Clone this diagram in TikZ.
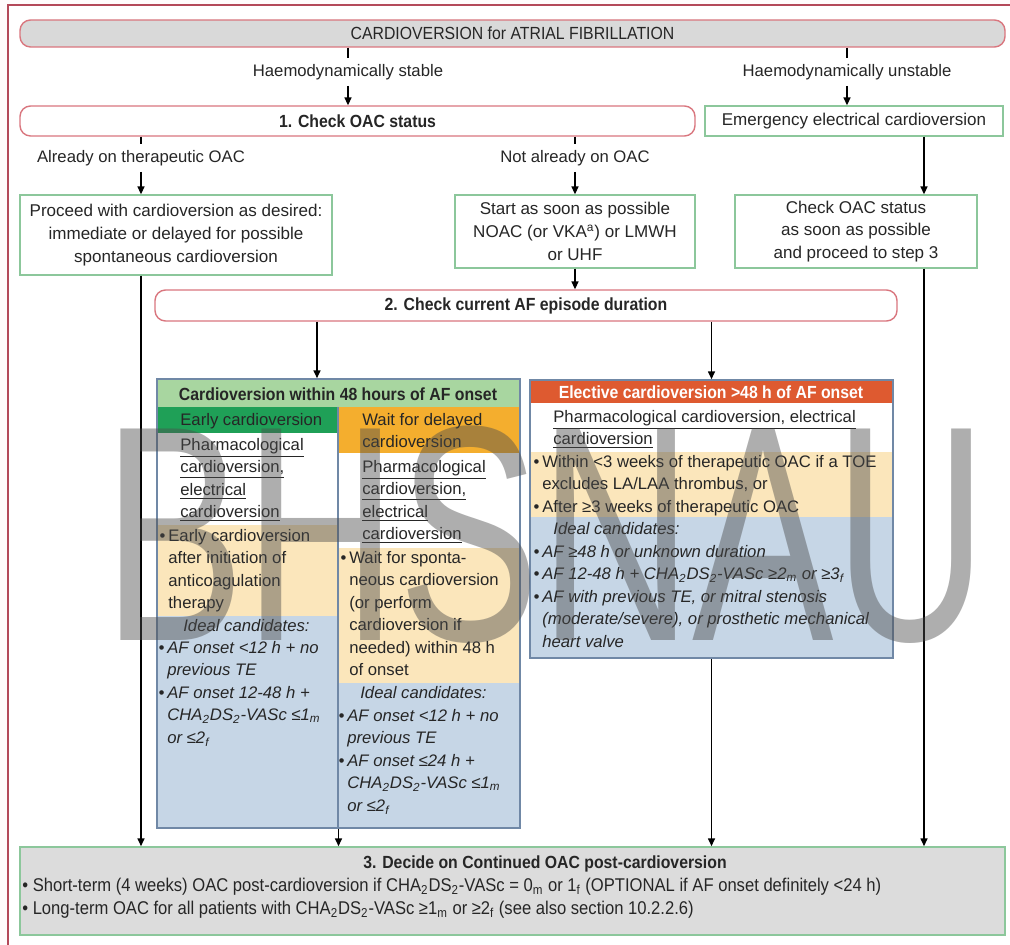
\documentclass[tikz,border=0pt]{standalone}
\usepackage{fontspec}
\setmainfont{Liberation Sans}
\newfontfamily\narrowfont[FakeStretch=0.9]{Liberation Sans}
\usetikzlibrary{arrows.meta,fit}

\definecolor{ink}{HTML}{262626}
\definecolor{framered}{HTML}{B44A5A}
\definecolor{edgered}{HTML}{D9767E}
\definecolor{titlegray}{HTML}{D9D9D9}
\definecolor{edgegreen}{HTML}{8CC79B}
\definecolor{headgreen}{HTML}{A8D6A0}
\definecolor{darkgreen}{HTML}{1FA057}
\definecolor{orangefill}{HTML}{F4AE2E}
\definecolor{headred}{HTML}{DE5A30}
\definecolor{paleyellow}{HTML}{FBE6BB}
\definecolor{paleblue}{HTML}{C6D6E6}
\definecolor{bordblue}{HTML}{7088A6}
\definecolor{decidegray}{HTML}{DCDCDC}

\newcommand\bodyfont{\fontsize{9.5}{12.8}\selectfont}
\newcommand\headfont{\narrowfont\fontsize{10}{12}\selectfont}
\newcommand\sub[1]{\textsubscript{#1}}

\tikzset{
  titlebox/.style={draw=edgered, fill=titlegray, rounded corners=6pt, inner sep=0pt, line width=0.8pt},
  stepbox/.style={draw=edgered, fill=white, rounded corners=6pt, inner sep=0pt, line width=0.8pt},
  greenbox/.style={draw=edgegreen, fill=white, inner sep=0pt, line width=0.8pt},
  colbox/.style={draw=bordblue, inner sep=0pt, line width=0.9pt},
  boxtext/.style={align=center, font=\fontsize{9.7}{13}\selectfont},
  steptext/.style={font=\headfont\bfseries},
  coltext/.style={anchor=north west, align=left, inner sep=0pt},
  idealtext/.style={coltext, font=\bodyfont\itshape},
  flow/.style={-{Triangle[length=4.5pt,width=4pt]}, line width=0.8pt, draw=black},
}

\begin{document}
\begin{tikzpicture}[x=0.02cm, y=-0.02cm,
    every node/.style={font=\bodyfont, text=ink}]
  \useasboundingbox (0,0) rectangle (1010,945);
  \fill[pink!5] (0,0) rectangle (1010,945);
  \draw[framered, line width=1.2pt, fill=white] (8,5) rectangle (1030,965);

  % step 0 and 1
  \node[titlebox, fit={(20,20) (1005,47)}] (title) {};
  \node[font=\headfont] (titletx) at (title.center) {CARDIOVERSION for ATRIAL FIBRILLATION};
  \node (stable) at (348,72) {Haemodynamically stable};
  \node (unstable) at (847,72) {Haemodynamically unstable};
  \node[stepbox, fit={(20,106) (695,136)}] (check1) {};
  \node[steptext] (check1tx) at (check1.center) {1. Check OAC status};
  \node[greenbox, fit={(705,106) (1003,136)}] (emerg) {};
  \node[boxtext] (emergtx) at (emerg.center) {Emergency electrical cardioversion};

  \node (already) at (141,158) {Already on therapeutic OAC};
  \node (notalr) at (575,158) {Not already on OAC};
  \node[greenbox, fit={(20,195) (332,275)}] (proceed) {};
  \node[boxtext] (proceedtx) at (proceed.center)
    {Proceed with cardioversion as desired:\\immediate or delayed for possible\\spontaneous cardioversion};
  \node[greenbox, fit={(455,195) (695,268)}] (start) {};
  \node[boxtext] (starttx) at (start.center)
    {Start as soon as possible\\NOAC (or VKA\textsuperscript{a}) or LMWH\\or UHF};
  \node[greenbox, fit={(735,195) (977,268)}] (chkstat) {};
  \node[boxtext] (chkstattx) at (chkstat.center)
    {Check OAC status\\as soon as possible\\and proceed to step 3};

  % step 2
  \node[stepbox, fit={(155,290) (897,321)}] (step2) {};
  \node[steptext] (step2tx) at (step2.center) {2. Check current AF episode duration};

  % within 48 h
  \fill[headgreen] (157,379) rectangle (520,407);
  \fill[darkgreen] (157,407) rectangle (338,433);
  \fill[orangefill] (338,407) rectangle (520,453);
  \fill[paleyellow] (157,525) rectangle (338,616);
  \fill[paleblue] (157,616) rectangle (338,828);
  \fill[paleyellow] (338,548) rectangle (520,683);
  \fill[paleblue] (338,683) rectangle (520,828);
  \draw[bordblue, line width=0.6pt] (338,407) -- (338,828);
  \node[colbox, fit={(157,379) (520,828)}] (within) {};

  \node[steptext] (withinhd) at (338,394) {Cardioversion within 48 hours of AF onset};
  \node[coltext] (earlyhd) at (180,413) {Early cardioversion};
  \node[coltext] (earlymode) at (180,438)
    {\underline{Pharmacological}\\\underline{cardioversion,}\\\underline{electrical}\\\underline{cardioversion}};
  \node[coltext] (earlytx) at (168,529)
    {\llap{•\,}Early cardioversion\\after initiation of\\anticoagulation\\therapy};
  \node[idealtext] (earlyideal) at (183,619) {Ideal candidates:};
  \node[idealtext] (earlycand) at (167,641)
    {\llap{•\,}AF onset <12 h + no\\previous TE\\\llap{•\,}AF onset 12-48 h +\\
     CHA\sub{2}DS\sub{2}-VASc ≤1\sub{m}\\or ≤2\sub{f}};

  \node[coltext] (waithd) at (362,413) {Wait for delayed\\cardioversion};
  \node[coltext] (waitmode) at (362,460)
    {\underline{Pharmacological}\\\underline{cardioversion,}\\\underline{electrical}\\\underline{cardioversion}};
  \node[coltext] (waittx) at (349,551)
    {\llap{•\,}Wait for sponta-\\neous cardioversion\\(or perform\\cardioversion if\\needed) within 48 h\\of onset};
  \node[idealtext] (waitideal) at (360,686) {Ideal candidates:};
  \node[idealtext] (waitcand) at (347,709)
    {\llap{•\,}AF onset <12 h + no\\previous TE\\\llap{•\,}AF onset ≤24 h +\\
     CHA\sub{2}DS\sub{2}-VASc ≤1\sub{m}\\or ≤2\sub{f}};

  % elective > 48 h
  \fill[headred] (530,380) rectangle (893,403);
  \fill[paleyellow] (530,452) rectangle (893,517);
  \fill[paleblue] (530,517) rectangle (893,658);
  \node[colbox, fit={(530,380) (893,658)}] (elective) {};

  \node[steptext, text=white] (electhd) at (711,392) {Elective cardioversion >48 h of AF onset};
  \node[coltext] (electmode) at (553,410)
    {\underline{Pharmacological cardioversion, electrical}\\\underline{cardioversion}};
  \node[coltext] (electtx) at (542,455)
    {\llap{•\,}Within <3 weeks of therapeutic OAC if a TOE\\excludes LA/LAA thrombus, or\\
     \llap{•\,}After ≥3 weeks of therapeutic OAC};
  \node[idealtext] (electideal) at (553,522) {Ideal candidates:};
  \node[idealtext] (electcand) at (542,545)
    {\llap{•\,}AF ≥48 h or unknown duration\\
     \llap{•\,}AF 12-48 h + CHA\sub{2}DS\sub{2}-VASc ≥2\sub{m} or ≥3\sub{f}\\
     \llap{•\,}AF with previous TE, or mitral stenosis\\
     (moderate/severe), or prosthetic mechanical\\heart valve};

  % step 3
  \node[draw=edgegreen, fill=decidegray, line width=0.9pt, inner sep=0pt, fit={(20,847) (1005,935)}] (decide) {};
  \node[steptext] (decidehd) at (545,864) {3. Decide on Continued OAC post-cardioversion};
  \node[coltext, font=\narrowfont\fontsize{10.5}{13}\selectfont] (decidetx) at (22,878)
    {• Short-term (4 weeks) OAC post-cardioversion if CHA\sub{2}DS\sub{2}-VASc = 0\sub{m} or 1\sub{f} (OPTIONAL if AF onset definitely <24 h)\\
     • Long-term OAC for all patients with CHA\sub{2}DS\sub{2}-VASc ≥1\sub{m} or ≥2\sub{f} (see also section 10.2.2.6)};

  % connectors
  \coordinate (rightx) at (924,0);
  \coordinate (lefta) at (317,0);
  \draw[line width=0.8pt] (title.south -| stable) -- (stable.north);
  \draw[line width=0.8pt] (title.south -| unstable) -- (unstable.north);
  \draw[flow] (stable.south) -- (check1.north -| stable);
  \draw[flow] (unstable.south) -- (emerg.north -| unstable);
  \draw[line width=0.8pt] (check1.south -| already) -- (already.north);
  \draw[line width=0.8pt] (check1.south -| notalr) -- (notalr.north);
  \draw[flow] (already.south) -- (proceed.north -| already);
  \draw[flow] (notalr.south) -- (start.north -| notalr);
  \draw[flow] (emerg.south -| rightx) -- (chkstat.north -| rightx);
  \draw[flow] (start.south) -- (step2.north -| start);
  \draw[flow] (step2.south -| lefta) -- (within.north -| lefta);
  \draw[flow] (step2.south -| elective) -- (elective.north);
  \draw[flow] (proceed.south -| already) -- (decide.north -| already);
  \draw[flow] (within.south) -- (decide.north -| within);
  \draw[flow] (elective.south) -- (decide.north -| elective);
  \draw[flow] (chkstat.south -| rightx) -- (decide.north -| rightx);

  % watermark
  \node[anchor=base west, inner sep=0pt, text=black!70, opacity=0.45,
    font=\fontsize{175}{175}\selectfont] (mark) at (103,640) {\scalebox{0.69}[1]{BHSNAU}};
\end{tikzpicture}
\end{document}
